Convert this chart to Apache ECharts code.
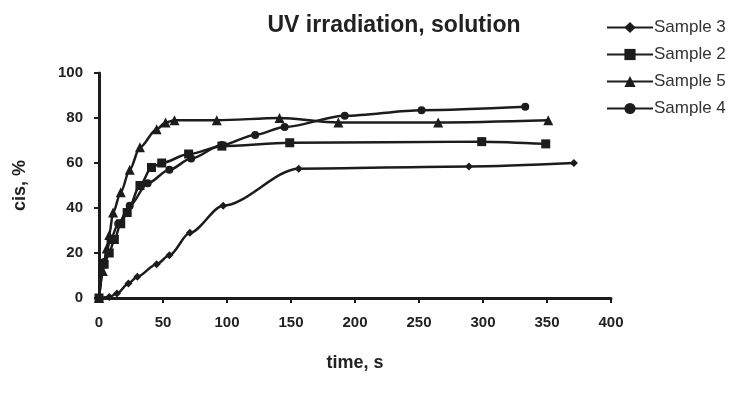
<!DOCTYPE html>
<html>
<head>
<meta charset="utf-8">
<script src="https://cdn.jsdelivr.net/npm/echarts@6/dist/echarts.min.js"></script>
<style>
  html, body { margin: 0; padding: 0; background: #fff; }
  #chart { width: 748px; height: 394px; }
</style>
</head>
<body>
<div id="chart"></div>
<script>
// time (s), cis (%)
const sample3 = [[0, 0], [8, 0.5], [14, 2], [23, 6.5], [30, 9.5], [45, 15], [55, 19], [71, 29], [97, 41], [156, 57.5], [289, 58.5], [371, 60]]
const sample2 = [[0, 0], [4, 15], [8, 20], [12, 26], [17, 33], [22, 38], [32, 50], [41, 58], [49, 60], [70, 64], [96, 67.5], [149, 69], [299, 69.5], [349, 68.5]]
const sample5 = [[0, 0], [3, 12], [6, 22], [8, 28], [11, 38], [17, 47], [24, 57], [32, 67], [45, 75], [52, 78], [59, 79], [92, 79], [141, 80], [187, 78], [265, 78], [351, 79]]
const sample4 = [[0, 0], [4, 16], [9, 26], [15, 33], [24, 41], [38, 51], [55, 57], [72, 62], [96, 68], [122, 72.5], [145, 76], [192, 81], [252, 83.5], [333, 85]]

const names = ['Sample 3', 'Sample 2', 'Sample 5', 'Sample 4']
const xTicks = [0, 400, 50]
const yTicks = [0, 100, 20]

const ink = '#1c1c1c'

const mkSeries = (name, data, symbol, size) => ({
    name: name,
    type: 'line',
    data: data,
    smooth: 0.3,
    smoothMonotone: 'x',
    symbol: symbol,
    symbolSize: size,
    showAllSymbol: true,
    lineStyle: { color: ink, width: 2.5 },
    itemStyle: { color: ink },
    emphasis: { disabled: true }
})

let Charts = echarts.init(document.getElementById('chart'))
Charts.setOption({
    animation: false,
    title: {
        text: 'UV irradiation, solution',
        left: 389,
        top: 9,
        textAlign: 'center',
        textStyle: {
            fontFamily: 'Liberation Sans',
            fontWeight: 'bold',
            fontSize: 23,
            color: '#222'
        }
    },
    legend: {
        data: names,
        orient: 'vertical',
        left: 601,
        top: 14,
        itemWidth: 46,
        itemHeight: 14,
        itemGap: 10,
        textStyle: {
            fontFamily: 'Liberation Sans',
            fontSize: 17,
            color: '#333',
            padding: [0, 0, 0, -4]
        }
    },
    grid: {
        left: 99,
        right: 137,
        top: 73,
        bottom: 96,
        containLabel: false
    },
    xAxis: {
        type: 'value',
        min: xTicks[0],
        max: xTicks[1],
        interval: xTicks[2],
        name: 'time, s',
        nameLocation: 'middle',
        nameGap: 56,
        nameTextStyle: {
            fontFamily: 'Liberation Sans',
            fontWeight: 'bold',
            fontSize: 18,
            color: '#222'
        },
        axisLine: { show: true, lineStyle: { color: ink, width: 3 } },
        axisTick: { show: true, length: 5, lineStyle: { color: ink, width: 2 } },
        axisLabel: {
            margin: 17,
            fontFamily: 'Liberation Sans',
            fontWeight: 'bold',
            fontSize: 15,
            color: '#222'
        },
        splitLine: { show: false }
    },
    yAxis: {
        type: 'value',
        min: yTicks[0],
        max: yTicks[1],
        interval: yTicks[2],
        name: 'cis, %',
        nameLocation: 'middle',
        nameGap: 70,
        nameTextStyle: {
            fontFamily: 'Liberation Sans',
            fontWeight: 'bold',
            fontSize: 18,
            color: '#222'
        },
        axisLine: { show: true, lineStyle: { color: ink, width: 3 } },
        axisTick: { show: true, length: 5, lineStyle: { color: ink, width: 2 } },
        axisLabel: {
            margin: 16,
            fontFamily: 'Liberation Sans',
            fontWeight: 'bold',
            fontSize: 15,
            color: '#222'
        },
        splitLine: { show: false }
    },
    series: [
        mkSeries(names[0], sample3, 'diamond', 8),
        mkSeries(names[1], sample2, 'rect', 9),
        mkSeries(names[2], sample5, 'triangle', 10),
        mkSeries(names[3], sample4, 'circle', 8)
    ]
})
</script>
</body>
</html>
